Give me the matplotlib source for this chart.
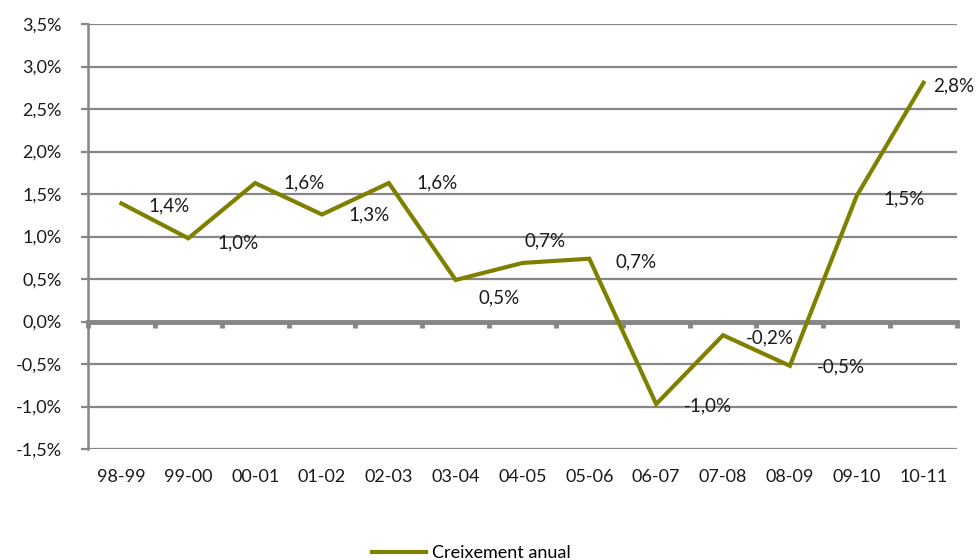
import numpy as np
from matplotlib import pyplot as plt
from matplotlib import transforms

periods = ['98-99', '99-00', '00-01', '01-02', '02-03', '03-04', '04-05',
           '05-06', '06-07', '07-08', '08-09', '09-10', '10-11']
growth = [1.39, 0.98, 1.63, 1.26, 1.63, 0.49, 0.69, 0.74, -0.97, -0.16, -0.52, 1.48, 2.81]
yticks = [-1.5, -1.0, -0.5, 0.0, 0.5, 1.0, 1.5, 2.0, 2.5, 3.0, 3.5]
# label offsets in points (dx, dy) relative to each point
offsets = [(34, -2), (36, -3), (35, 0), (34, 0), (35, 0), (31, -13), (16, 16),
           (34, -2), (37, -1), (34, -2), (37, -1), (34, -2), (22, -2)]

olive = '#808000'
grey = '#868686'
plt.rcParams['font.family'] = ['Lato', 'DejaVu Sans']

fig = plt.figure(figsize=(9.78, 5.6), dpi=100)
ax = fig.add_axes([0.09, 0.198, 0.8885, 0.759])

x = np.arange(len(periods))
ax.plot(x, growth, color=olive, lw=3, solid_joinstyle='miter', label='Creixement anual', zorder=5)

for xi, v, (dx, dy) in zip(x, growth, offsets):
    ax.annotate(f'{v:.1f}%'.replace('.', ','), (xi, v), xytext=(dx, dy),
                textcoords='offset points', ha='center', va='center',
                fontsize=13.5, color='#1a1a1a', zorder=6, annotation_clip=False)

ax.set_xlim(-0.5, len(periods) - 0.5)
ax.set_ylim(-1.5, 3.5)
ax.set_yticks(yticks)
ax.set_yticklabels([f'{t:.1f}%'.replace('.', ',') for t in yticks], fontsize=13, color='#1a1a1a')
ax.yaxis.grid(True, color=grey, lw=1.6)
ax.set_axisbelow(True)
ax.tick_params(axis='y', length=5, width=1.6, color=grey, pad=14)

# category axis crosses at zero
ax.spines['bottom'].set_position(('data', 0))
ax.spines['bottom'].set_color(grey)
ax.spines['bottom'].set_linewidth(3.5)
ax.spines['bottom'].set_zorder(4)
ax.set_xticks(np.arange(len(periods) + 1) - 0.5)
ax.tick_params(axis='x', direction='out', length=4, width=3.5, color=grey, labelbottom=False)
ax.spines['left'].set_color(grey)
ax.spines['left'].set_linewidth(1.8)
ax.spines['top'].set_visible(False)
ax.spines['right'].set_visible(False)

trans = transforms.blended_transform_factory(ax.transData, ax.transAxes)
for xi, p in zip(x, periods):
    ax.text(xi, -0.065, p, transform=trans, ha='center', va='center',
            fontsize=13, color='#1a1a1a')

fig.legend(loc='center', bbox_to_anchor=(0.482, 0.012), frameon=False,
           fontsize=13, handlelength=3.0, handletextpad=0.3)

fig.savefig('out.png', dpi=100)
